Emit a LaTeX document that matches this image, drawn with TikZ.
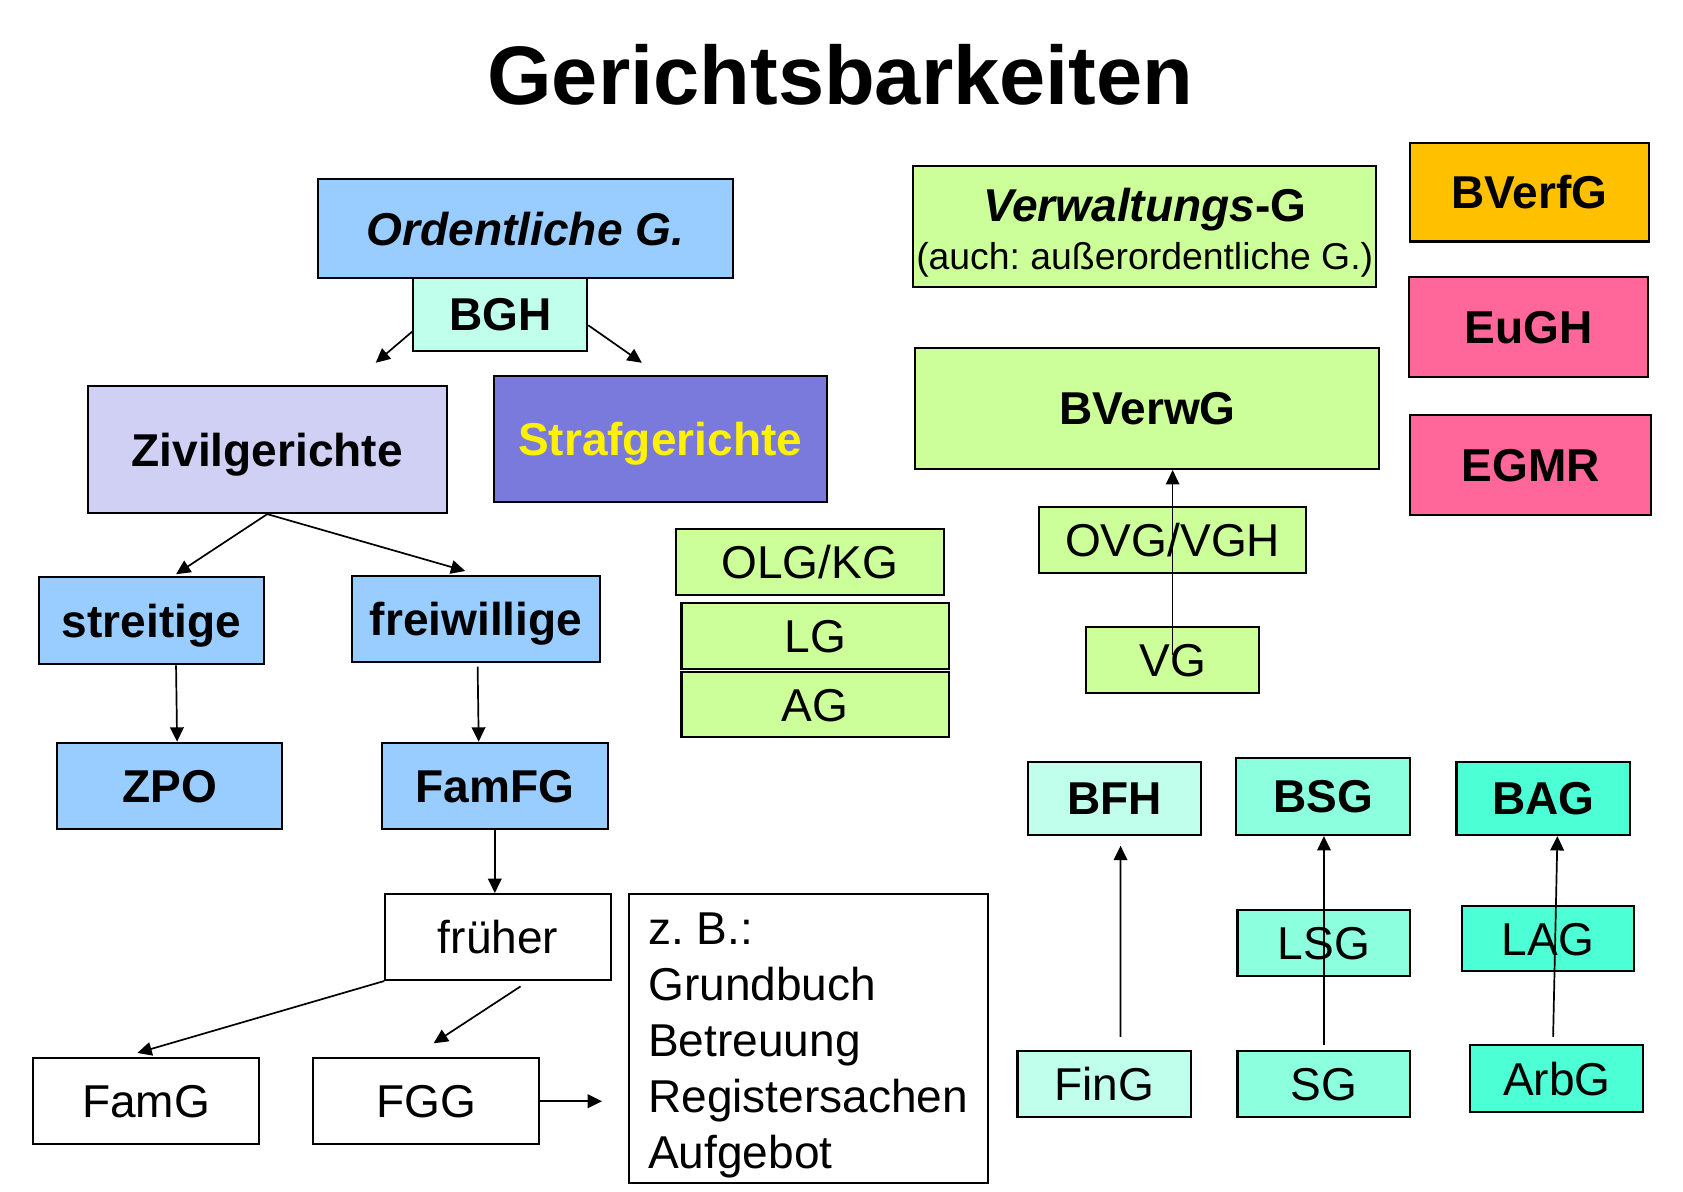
\documentclass[tikz,border=0pt]{standalone}
\usepackage{fontspec}
\setmainfont{Liberation Sans}
\usepackage{tikz}
\usetikzlibrary{arrows.meta}
\definecolor{ordblue}{RGB}{153,204,255}
\definecolor{bghmint}{RGB}{192,255,236}
\definecolor{zivillav}{RGB}{208,208,244}
\definecolor{strafviolet}{RGB}{122,122,220}
\definecolor{verwgreen}{RGB}{204,255,153}
\definecolor{verfgold}{RGB}{255,192,0}
\definecolor{eupink}{RGB}{255,102,153}
\definecolor{sozmint}{RGB}{140,255,222}
\definecolor{arbmint}{RGB}{77,255,212}

\tikzset{
  court/.style={draw=black, line width=0.55pt, inner sep=0pt, text height=8.7pt, text depth=0pt},
  topcourt/.style={court, font=\bfseries},
  arr/.style={-{Triangle[length=3.8pt,width=3.6pt]}, line width=0.45pt},
}

\begin{document}
\frenchspacing
\fontsize{12.2}{14.7}\selectfont
\begin{tikzpicture}[x=0.01cm, y=-0.01cm]
  \useasboundingbox (0,0) rectangle (1568,1110);

  \node[anchor=base, font=\fontsize{22}{26}\selectfont\bfseries] (title) at (783,97) {Gerichtsbarkeiten};

  % ordentliche Gerichtsbarkeit
  \node[topcourt, fill=ordblue, minimum width=3.87cm, minimum height=0.92cm, font=\bfseries\itshape] (ordent) at (489.5,213) {Ordentliche G.};
  \node[topcourt, fill=bghmint, minimum width=1.62cm, minimum height=0.68cm] (bgh) at (466,293) {BGH};
  \node[topcourt, fill=zivillav, minimum width=3.34cm, minimum height=1.18cm] (zivil) at (249,419) {Zivilgerichte};
  \node[topcourt, fill=strafviolet, text=yellow, minimum width=3.10cm, minimum height=1.18cm] (straf) at (615,409) {Strafgerichte};
  \node[topcourt, fill=ordblue, minimum width=2.10cm, minimum height=0.81cm] (streit) at (141,578.5) {streitige};
  \node[topcourt, fill=ordblue, minimum width=2.31cm, minimum height=0.80cm] (freiw) at (443.5,577) {freiwillige};
  \node[topcourt, fill=ordblue, minimum width=2.10cm, minimum height=0.80cm] (zpo) at (158,732) {ZPO};
  \node[topcourt, fill=ordblue, minimum width=2.10cm, minimum height=0.80cm] (famfg) at (461,732) {FamFG};
  \node[court, fill=white, minimum width=2.10cm, minimum height=0.80cm] (frueher) at (464,873) {früher};
  \node[court, fill=white, minimum width=2.10cm, minimum height=0.80cm] (famg) at (136,1026) {FamG};
  \node[court, fill=white, minimum width=2.10cm, minimum height=0.80cm] (fgg) at (397,1026) {FGG};
  \node[court, fill=white, align=left, minimum width=3.34cm, minimum height=2.69cm, text height=2.56cm, text depth=0.13cm,
    font=\fontsize{12.2}{14.87}\selectfont] (zb) at (753,967.5) {z. B.:\\Grundbuch\\Betreuung\\Registersachen\\Aufgebot};
  \node[court, fill=verwgreen, minimum width=2.49cm, minimum height=0.61cm] (olg) at (754.5,523.5) {OLG/KG};
  \node[court, fill=verwgreen, minimum width=2.49cm, minimum height=0.61cm] (lg) at (759.5,592.5) {LG};
  \node[court, fill=verwgreen, minimum width=2.49cm, minimum height=0.61cm] (ag) at (759.5,656.5) {AG};

  % Verwaltungsgerichtsbarkeit
  \node[court, fill=verwgreen, align=center, minimum width=4.31cm, minimum height=1.12cm, text height=0.96cm, text depth=0.16cm] (verw) at (1066.5,211)
    {{\bfseries\itshape Verwaltungs}{\bfseries -G}\\[-2pt]{\fontsize{9.9}{12}\selectfont (auch: außerordentliche G.)}};
  \node[topcourt, fill=verwgreen, minimum width=4.32cm, minimum height=1.13cm] (bverwg) at (1069,380.5) {BVerwG};
  \node[court, fill=verwgreen, minimum width=2.49cm, minimum height=0.62cm] (ovg) at (1092.5,503) {OVG/VGH};
  \node[court, fill=verwgreen, minimum width=1.61cm, minimum height=0.62cm] (vg) at (1092.5,615) {VG};

  % Verfassung und Europa
  \node[topcourt, fill=verfgold, minimum width=2.22cm, minimum height=0.92cm] (bverfg) at (1425,179) {BVerfG};
  \node[topcourt, fill=eupink, minimum width=2.22cm, minimum height=0.93cm] (eugh) at (1424,304.5) {EuGH};
  \node[topcourt, fill=eupink, minimum width=2.24cm, minimum height=0.93cm] (egmr) at (1426,433.5) {EGMR};

  % Fach- und Arbeitsgerichte
  \node[topcourt, fill=bghmint, minimum width=1.61cm, minimum height=0.68cm] (bfh) at (1038.5,744) {BFH};
  \node[court, fill=bghmint, minimum width=1.62cm, minimum height=0.62cm] (fing) at (1029,1010) {FinG};
  \node[topcourt, fill=sozmint, minimum width=1.62cm, minimum height=0.72cm] (bsg) at (1233,742) {BSG};
  \node[court, fill=sozmint, minimum width=1.61cm, minimum height=0.61cm] (lsg) at (1233.5,878.5) {LSG};
  \node[court, fill=sozmint, minimum width=1.61cm, minimum height=0.62cm] (sg) at (1233.5,1010) {SG};
  \node[topcourt, fill=arbmint, minimum width=1.62cm, minimum height=0.68cm] (bag) at (1438,744) {BAG};
  \node[court, fill=arbmint, minimum width=1.60cm, minimum height=0.61cm] (lag) at (1442,874.5) {LAG};
  \node[court, fill=arbmint, minimum width=1.61cm, minimum height=0.62cm] (arbg) at (1450.5,1005) {ArbG};

  % arrows
  \coordinate (ziviltip) at (350,338);
  \coordinate (straftip) at (598,338);
  \coordinate (zbtip) at ([xshift=-0.24cm]zb.west);
  \draw[arr] ([yshift=-0.16cm]bgh.west) -- (ziviltip);
  \draw[arr] ([yshift=-0.10cm]bgh.east) -- (straftip);
  \draw[arr] (zivil.south) -- ([xshift=0.23cm,yshift=0.02cm]streit.north);
  \draw[arr] (zivil.south) -- ([xshift=-0.1cm,yshift=0.04cm]freiw.north);
  \draw[arr] ([xshift=0.23cm]streit.south) -- ([xshift=0.07cm]zpo.north);
  \draw[arr] ([xshift=0.015cm,yshift=-0.03cm]freiw.south) -- ([xshift=-0.15cm]famfg.north);
  \draw[arr] (famfg.south) -- (famfg.south |- frueher.north);
  \draw[arr] (frueher.south west) -- ([xshift=-0.08cm,yshift=0.04cm]famg.north);
  \draw[arr] ([xshift=0.21cm,yshift=-0.05cm]frueher.south) -- ([xshift=0.07cm,yshift=0.13cm]fgg.north);
  \draw[arr] (fgg.east) -- (zbtip |- fgg.east);
  \draw[arr] ([yshift=0.05cm]vg.center) -- (vg.center |- bverwg.south);
  \draw[arr] ([xshift=0.15cm,yshift=0.12cm]fing.north) -- ([xshift=0.055cm,yshift=-0.09cm]bfh.south);
  \draw[arr] ([yshift=0.04cm]sg.north) -- (sg.north |- bsg.south);
  \draw[arr] ([xshift=-0.035cm,yshift=0.07cm]arbg.north) -- ([xshift=0.13cm]bag.south);
\end{tikzpicture}
\end{document}
